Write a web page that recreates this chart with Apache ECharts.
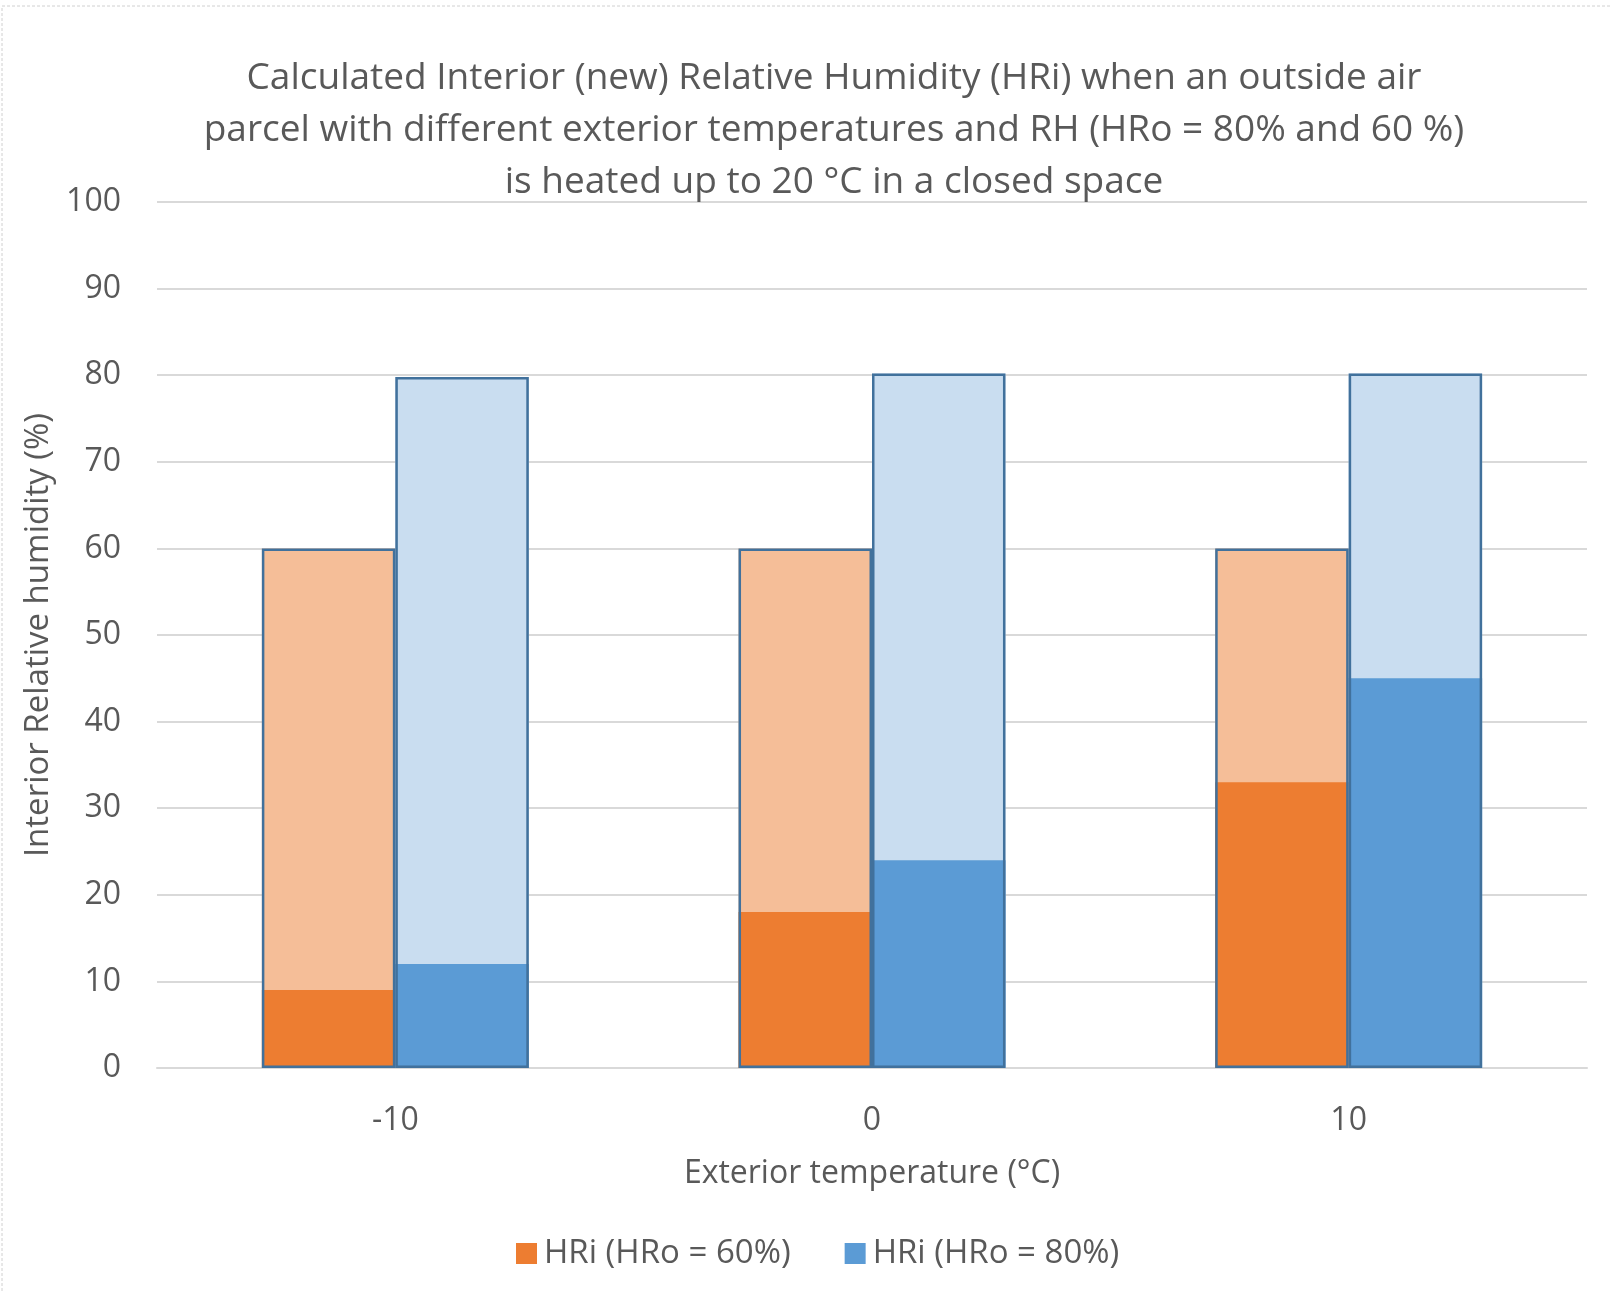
<!DOCTYPE html>
<html lang="en">
<head>
  <meta charset="UTF-8">
  <title>Interior Relative Humidity</title>
  <style>
    html, body {margin: 0; padding: 0; background: #fff;}
    #chart {width: 1611px; height: 1293px;}
  </style>
</head>
<body>
  <div id="chart"></div>
  <script src="https://cdn.jsdelivr.net/npm/echarts@6/dist/echarts.min.js"></script>
  <script>
    // data
    var categories = ['-10', '0', '10'];
    var ref60 = [60, 60, 60];          // outside RH 60 % (light bars)
    var ref80 = [79.8, 80.2, 80.2];    // outside RH 80 % (light bars)
    var hri60 = [9, 18, 33];           // interior RH when HRo = 60 %
    var hri80 = [12, 24, 45];          // interior RH when HRo = 80 %
    var yTicks = {min: 0, max: 100, step: 10};

    var font = 'Open Sans';
    var textColor = '#595959';
    var outline = '#41719C';

    var chart = echarts.init(document.getElementById('chart'));

    function catAxis(show) {
      return {
        type: 'category',
        data: categories,
        show: show,
        axisTick: {show: false},
        axisLine: {show: show, lineStyle: {color: '#D9D9D9', width: 2}},
        axisLabel: {color: textColor, fontSize: 32, fontFamily: font, margin: 37},
        name: show ? 'Exterior temperature (°C)' : '',
        nameLocation: 'middle',
        nameGap: 90,
        nameTextStyle: {color: textColor, fontSize: 32, fontFamily: font}
      };
    }

    var option = {
      animation: false,
      title: {
        text: 'Calculated Interior (new) Relative Humidity (HRi) when an outside air\nparcel with different exterior temperatures and RH (HRo = 80% and 60 %)\nis heated up to 20 °C in a closed space',
        left: 829,
        top: 47,
        textAlign: 'center',
        textStyle: {
          color: textColor, fontSize: 37, fontWeight: 'normal',
          fontFamily: font, lineHeight: 52
        }
      },
      legend: {
        data: ['HRi (HRo = 60%)', 'HRi (HRo = 80%)'],
        left: 516,
        top: 1237,
        padding: 0,
        itemWidth: 21,
        itemHeight: 21,
        itemGap: 54,
        icon: 'rect',
        textStyle: {color: textColor, fontSize: 33, fontFamily: font, padding: [0, 0, 0, 2]}
      },
      grid: {left: 157, right: 24, top: 202, bottom: 225},
      xAxis: [catAxis(true), catAxis(false), catAxis(false)],
      yAxis: {
        type: 'value',
        min: yTicks.min,
        max: yTicks.max,
        interval: yTicks.step,
        axisLine: {show: false},
        axisTick: {show: false},
        axisLabel: {color: textColor, fontSize: 32, fontFamily: font, margin: 36},
        splitLine: {lineStyle: {color: '#D9D9D9', width: 2}},
        name: 'Interior Relative humidity (%)',
        nameLocation: 'middle',
        nameGap: 101,
        nameTextStyle: {color: textColor, fontSize: 33, fontFamily: font}
      },
      series: [
        // light reference bars
        {name: 'ref60', type: 'bar', xAxisIndex: 0, data: ref60,
          barGap: '0%', barCategoryGap: '44%', z: 1,
          itemStyle: {color: '#F5BE98'}},
        {name: 'ref80', type: 'bar', xAxisIndex: 0, data: ref80,
          barGap: '0%', barCategoryGap: '44%', z: 1,
          itemStyle: {color: '#C9DDF0'}},
        // computed interior values
        {name: 'HRi (HRo = 60%)', type: 'bar', xAxisIndex: 1, data: hri60,
          barGap: '0%', barCategoryGap: '44%', z: 2,
          itemStyle: {color: '#ED7D31'}},
        {name: 'HRi (HRo = 80%)', type: 'bar', xAxisIndex: 1, data: hri80,
          barGap: '0%', barCategoryGap: '44%', z: 2,
          itemStyle: {color: '#5B9BD5'}},
        // dark outlines of the reference bars on top
        {name: 'out60', type: 'bar', xAxisIndex: 2, data: ref60,
          barGap: '0%', barCategoryGap: '44%', z: 3,
          itemStyle: {color: 'rgba(0,0,0,0)', borderColor: outline, borderWidth: 2.5}},
        {name: 'out80', type: 'bar', xAxisIndex: 2, data: ref80,
          barGap: '0%', barCategoryGap: '44%', z: 3,
          itemStyle: {color: 'rgba(0,0,0,0)', borderColor: outline, borderWidth: 2.5}}
      ],
      graphic: [{
        type: 'rect',
        shape: {x: 2, y: 6, width: 1640, height: 1300},
        style: {fill: null, stroke: '#D0D0D0', lineWidth: 1, lineDash: [3, 2]},
        silent: true
      }]
    };

    chart.setOption(option);
  </script>
</body>
</html>
